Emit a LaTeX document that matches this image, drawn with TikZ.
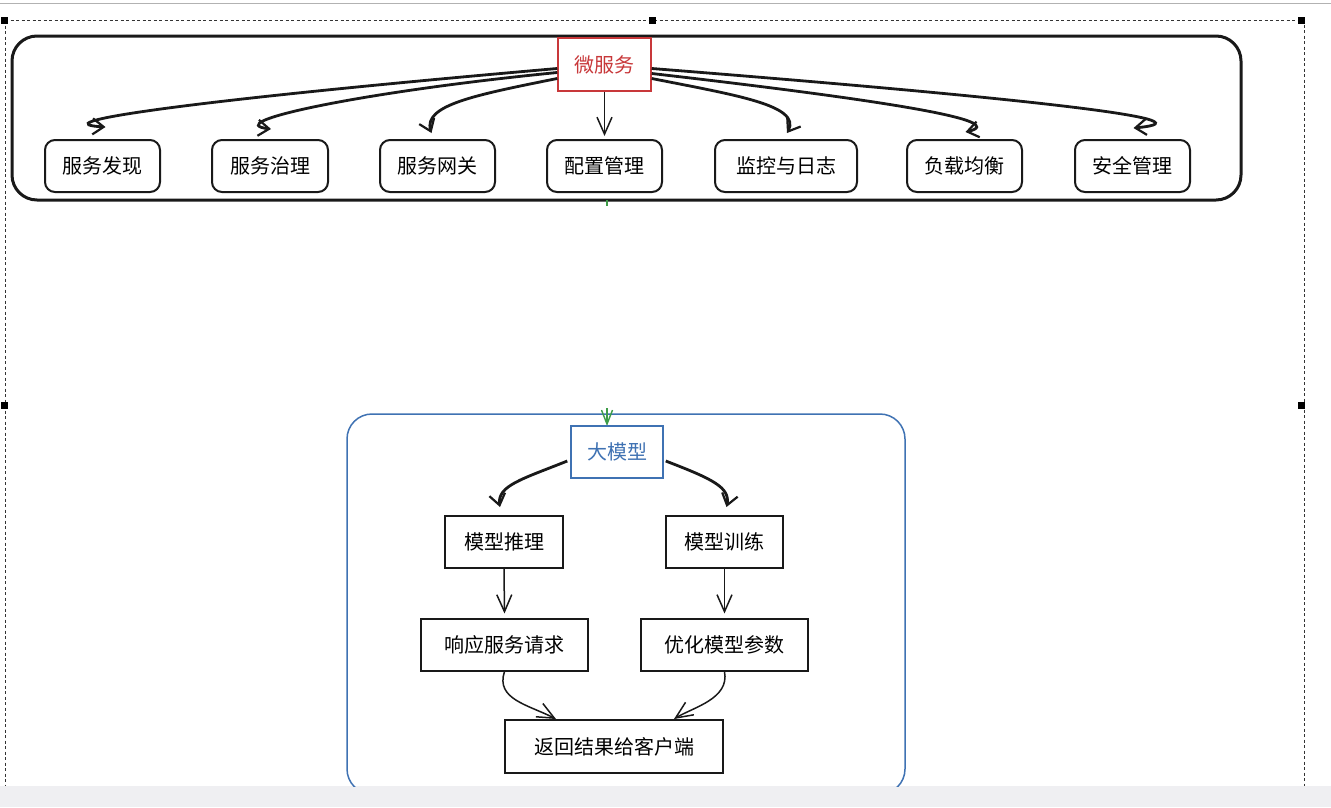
\documentclass[tikz,border=0pt]{standalone}
\usepackage{fontspec}
\setmainfont{Noto Sans CJK SC}
\usetikzlibrary{arrows.meta,calc,bending}
\definecolor{msred}{HTML}{C8383A}
\definecolor{llmblue}{HTML}{3F72B3}
\definecolor{gbar}{HTML}{EFEFF2}
\definecolor{lgreen}{HTML}{3E9C48}
\tikzset{
  every node/.style={font=\fontsize{20}{24}\selectfont, inner sep=0pt},
  frame/.style={draw=black!90, line width=3pt, rounded corners=25pt},
  child/.style={draw=black!90, line width=2pt, rounded corners=10pt, minimum height=52pt},
  plain/.style={draw=black!90, line width=2pt, minimum height=52pt},
  arr/.style={draw=black!90, line width=2.8pt, -{Straight Barb[length=11pt,width=16pt,line width=2.2pt,flex]}},
  thin/.style={draw=black!90, line width=1.5pt, -{Straight Barb[length=17pt,width=15pt,line width=1.5pt,flex]}},
  handle/.style={fill=black, minimum size=7pt},
}
\begin{document}
\begin{tikzpicture}[x=1pt,y=-1pt]
\useasboundingbox (0,0) rectangle (1331,807);
\fill[white] (0,0) rectangle (1331,807);
% editor chrome
\draw[gray!60, line width=1pt] (0,3.5) -- (1331,3.5);
\fill[gbar] (0,786) rectangle (1331,807);
\draw[black!80, line width=0.7pt, dash pattern=on 3pt off 2.5pt] (5,20) -- (1304,20) -- (1304,786);
\draw[black!80, line width=0.7pt, dash pattern=on 3pt off 2.5pt] (5,20) -- (5,786);
\node[handle] (h1) at (4,20) {};
\node[handle] (h2) at (652,20) {};
\node[handle] (h3) at (1301,20) {};
\node[handle] (h4) at (4,405) {};
\node[handle] (h5) at (1301,405) {};

% top container
\node[frame, minimum width=1229pt, minimum height=164pt] (top) at (626.5,118) {};
\node[draw=msred, line width=1.5pt, fill=white, minimum width=93pt, minimum height=53pt, text=msred] (ms) at (604.5,64.5) {微服务};

\node[child, minimum width=115pt] (c1) at (102.5,166) {服务发现};
\node[child, minimum width=116pt] (c2) at (270,166) {服务治理};
\node[child, minimum width=115pt] (c3) at (437.5,166) {服务网关};
\node[child, minimum width=115pt] (c4) at (604.5,166) {配置管理};
\node[child, minimum width=142pt] (c5) at (786,166) {监控与日志};
\node[child, minimum width=115pt] (c6) at (964.5,166) {负载均衡};
\node[child, minimum width=115pt] (c7) at (1132.5,166) {安全管理};

\draw[arr] ([yshift=-4pt]ms.west) .. controls (150,104) and (40,124) .. ([xshift=3pt,yshift=12pt]c1.north);
\draw[arr] ([yshift=-8pt]ms.west) .. controls (350,93) and (215,124) .. ([xshift=1pt,yshift=10pt]c2.north);
\draw[arr] ([yshift=-14pt]ms.west) .. controls (470,96) and (420,106) .. ([xshift=-6pt,yshift=6pt]c3.north);
\draw[thin] (ms.south) -- ([yshift=3pt]c4.north);
\draw[arr] ([yshift=-14pt]ms.east) .. controls (740,96) and (805,106) .. ([xshift=1pt,yshift=6pt]c5.north);
\draw[arr] ([yshift=-9pt]ms.east) .. controls (900,102) and (1015,122) .. ([xshift=1pt,yshift=7pt]c6.north);
\draw[arr] ([yshift=-4pt]ms.east) .. controls (1000,96) and (1230,120) .. ([xshift=1pt,yshift=11pt]c7.north);

% green link (mostly hidden)
\coordinate (g1) at (607,200);
\coordinate (g2) at (607,206);
\draw[lgreen, line width=1.5pt] (g1) -- (g2);

% bottom container
\begin{scope}
\clip (0,0) rectangle (1331,786);
\node[draw=llmblue, line width=1.5pt, rounded corners=25pt, minimum width=558pt, minimum height=380pt] (bot) at (626,604) {};
\end{scope}
\coordinate (g3) at (607,408);
\coordinate (g4) at (607,426);
\draw[lgreen, line width=1.4pt, -{Straight Barb[length=14pt,width=11pt,line width=1.4pt]}] (g3) -- (g4);

\node[draw=llmblue, line width=1.5pt, fill=white, minimum width=92pt, minimum height=52pt, text=llmblue] (llm) at (617,452) {大模型};
\node[plain, minimum width=118pt] (infer) at (504,542) {模型推理};
\node[plain, minimum width=117pt] (train) at (724.5,542) {模型训练};
\node[plain, minimum width=167pt] (resp) at (504.5,644.5) {响应服务请求};
\node[plain, minimum width=167pt] (opt) at (724.5,644.5) {优化模型参数};
\node[plain, minimum width=218pt, minimum height=53pt] (ret) at (614,746.5) {返回结果给客户端};

\draw[arr] ([xshift=-3pt,yshift=-9pt]llm.west) .. controls (520,480) and (495,486) .. ([xshift=-4pt,yshift=8pt]infer.north);
\draw[arr] ([xshift=2pt,yshift=-9pt]llm.east) .. controls (715,480) and (732,488) .. ([xshift=2pt,yshift=8pt]train.north);
\draw[thin] (infer.south) -- ([yshift=4pt]resp.north);
\draw[thin] (train.south) -- ([yshift=4pt]opt.north);
\draw[thin] (resp.south) .. controls (495,700) and (530,705) .. ([xshift=-58pt]ret.north);
\draw[thin] (opt.south) .. controls (730,700) and (690,708) .. ([xshift=60pt]ret.north);
\end{tikzpicture}
\end{document}
